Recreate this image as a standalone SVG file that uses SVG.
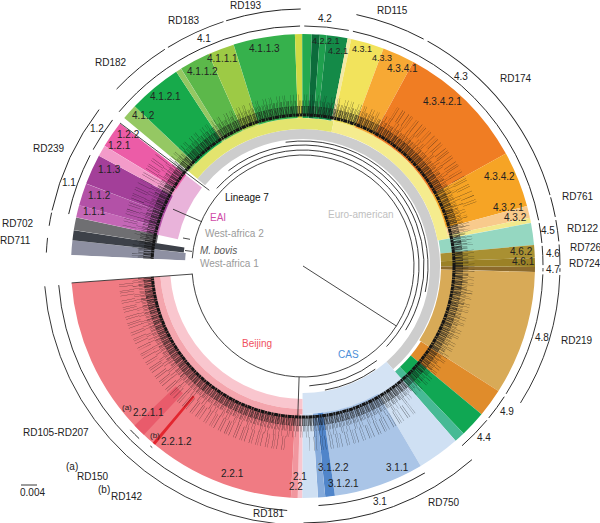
<svg xmlns="http://www.w3.org/2000/svg" width="600" height="523" viewBox="0 0 600 523">
<style>
.w{fill:none}
.a{fill:none;stroke:#222;stroke-width:0.9}
.tl{fill:none;stroke:#1a1a1a;stroke-width:0.8}
.t{font-family:"Liberation Sans",Arial,sans-serif;font-size:10px;fill:#222}
.s{font-size:9px}
.sup{font-size:8px}
.lv{fill:none;stroke:#151515}
.mk{fill:none;stroke:#fff}
</style>
<defs>
  <mask id="mB" maskUnits="userSpaceOnUse" x="-300" y="-300" width="600" height="600">
    <circle class="mk" r="180" stroke-width="30" pathLength="360" stroke-dasharray="80 360" transform="rotate(95)"/>
    <circle class="mk" r="180" stroke-width="30" pathLength="360" stroke-dasharray="36 360" transform="rotate(52)"/>
    <circle class="mk" r="180" stroke-width="30" pathLength="360" stroke-dasharray="25 360" transform="rotate(192.5)"/>
    <circle class="mk" r="180" stroke-width="30" pathLength="360" stroke-dasharray="40 360" transform="rotate(300)"/>
  </mask>
</defs>
<rect width="600" height="523" fill="#fff"/>
<g id="wedges" transform="translate(303 266)">
  <g id="lineage-bands">
    <circle class="w" r="132" stroke="#cdcdcd" stroke-width="10" pathLength="360" stroke-dasharray="189.4 360" transform="rotate(219.5)"/>
    <circle class="w" r="142.5" stroke="#e3e46e" stroke-width="11" pathLength="360" stroke-dasharray="62.4 360" transform="rotate(219.6)"/>
    <circle class="w" r="142.5" stroke="#f5ec8e" stroke-width="11" pathLength="360" stroke-dasharray="67.3 360" transform="rotate(282)"/>
    <circle class="w" r="137.5" stroke="#d4e3f4" stroke-width="21" pathLength="360" stroke-dasharray="41.3 360" transform="rotate(48.9)"/>
    <circle class="w" r="138" stroke="#f9c6ce" stroke-width="10" pathLength="360" stroke-dasharray="85.6 360" transform="rotate(90.2)"/>
    <circle class="w" r="146.5" stroke="#f4a5ad" stroke-width="7" pathLength="360" stroke-dasharray="85.6 360" transform="rotate(90.2)"/>
    <circle class="w" r="139" stroke="#e9b3da" stroke-width="22" pathLength="360" stroke-dasharray="25.8 360" transform="rotate(192.1)"/>
  </g>
  <g id="west-africa">
    <circle class="w" r="175" stroke="#8e90a2" stroke-width="114" pathLength="360" stroke-dasharray="3.7 360" transform="rotate(182.7)"/>
    <circle class="w" r="176" stroke="#3d4149" stroke-width="112" pathLength="360" stroke-dasharray="2.5 360" transform="rotate(186.4)"/>
    <circle class="w" r="190" stroke="#6f6f72" stroke-width="84" pathLength="360" stroke-dasharray="3.2 360" transform="rotate(188.9)"/>
  </g>
  <g id="lineage1">
    <circle class="w" r="190" stroke="#c467b6" stroke-width="84" pathLength="360" stroke-dasharray="3.1 360" transform="rotate(192.1)"/>
    <circle class="w" r="190" stroke="#b351a7" stroke-width="84" pathLength="360" stroke-dasharray="5.6 360" transform="rotate(195.2)"/>
    <circle class="w" r="190" stroke="#a33f99" stroke-width="84" pathLength="360" stroke-dasharray="7.6 360" transform="rotate(200.8)"/>
    <circle class="w" r="190" stroke="#f39bc9" stroke-width="84" pathLength="360" stroke-dasharray="2.8 360" transform="rotate(208.4)"/>
    <circle class="w" r="190" stroke="#ec5ca7" stroke-width="84" pathLength="360" stroke-dasharray="6.7 360" transform="rotate(211.2)"/>
  </g>
  <g id="lineage4-1">
    <circle class="w" r="190" stroke="#95c863" stroke-width="84" pathLength="360" stroke-dasharray="3.9 360" transform="rotate(219.6)"/>
    <circle class="w" r="190" stroke="#17aa4b" stroke-width="84" pathLength="360" stroke-dasharray="13.4 360" transform="rotate(223.5)"/>
    <circle class="w" r="190" stroke="#95c863" stroke-width="84" pathLength="360" stroke-dasharray="1.4 360" transform="rotate(236.9)"/>
    <circle class="w" r="190" stroke="#5cb84a" stroke-width="84" pathLength="360" stroke-dasharray="7.7 360" transform="rotate(238.3)"/>
    <circle class="w" r="190" stroke="#9dca45" stroke-width="84" pathLength="360" stroke-dasharray="6.6 360" transform="rotate(246)"/>
    <circle class="w" r="190" stroke="#36b14c" stroke-width="84" pathLength="360" stroke-dasharray="15.4 360" transform="rotate(252.6)"/>
    <circle class="w" r="190" stroke="#cfda45" stroke-width="84" pathLength="360" stroke-dasharray="1.8 360" transform="rotate(268)"/>
  </g>
  <g id="lineage4-2">
    <circle class="w" r="190" stroke="#24a94f" stroke-width="84" pathLength="360" stroke-dasharray="2.4 360" transform="rotate(269.8)"/>
    <circle class="w" r="190" stroke="#0c6c3b" stroke-width="84" pathLength="360" stroke-dasharray="2 360" transform="rotate(272.2)"/>
    <circle class="w" r="190" stroke="#1f9f4e" stroke-width="84" pathLength="360" stroke-dasharray="1.7 360" transform="rotate(274.2)"/>
    <circle class="w" r="190" stroke="#148a48" stroke-width="84" pathLength="360" stroke-dasharray="5.2 360" transform="rotate(275.9)"/>
    <circle class="w" r="190" stroke="#f2e8a4" stroke-width="84" pathLength="360" stroke-dasharray="0.9 360" transform="rotate(281.1)"/>
  </g>
  <g id="lineage4-3">
    <circle class="w" r="190" stroke="#f2e35c" stroke-width="84" pathLength="360" stroke-dasharray="8.3 360" transform="rotate(282)"/>
    <circle class="w" r="190" stroke="#f7a934" stroke-width="84" pathLength="360" stroke-dasharray="8.1 360" transform="rotate(290.3)"/>
    <circle class="w" r="190" stroke="#f07d23" stroke-width="84" pathLength="360" stroke-dasharray="32.6 360" transform="rotate(298.4)"/>
    <circle class="w" r="190" stroke="#f6a425" stroke-width="84" pathLength="360" stroke-dasharray="14 360" transform="rotate(331)"/>
    <circle class="w" r="190" stroke="#f8ca8c" stroke-width="84" pathLength="360" stroke-dasharray="3 360" transform="rotate(345)"/>
    <circle class="w" r="190" stroke="#f2e98c" stroke-width="84" pathLength="360" stroke-dasharray="1.3 360" transform="rotate(348)"/>
  </g>
  <g id="lineage4-other">
    <circle class="w" r="185" stroke="#95d7c1" stroke-width="94" pathLength="360" stroke-dasharray="5.5 360" transform="rotate(349.3)"/>
    <circle class="w" r="185" stroke="#a99032" stroke-width="94" pathLength="360" stroke-dasharray="3.2 360" transform="rotate(354.8)"/>
    <circle class="w" r="185" stroke="#9b8126" stroke-width="94" pathLength="360" stroke-dasharray="2.25 360" transform="rotate(358)"/>
    <circle class="w" r="185" stroke="#8d6b2d" stroke-width="94" pathLength="360" stroke-dasharray="1.25 360" transform="rotate(0.25)"/>
    <circle class="w" r="185" stroke="#d8aa57" stroke-width="94" pathLength="360" stroke-dasharray="31.1 360" transform="rotate(1.5)"/>
    <circle class="w" r="186" stroke="#e08c2b" stroke-width="92" pathLength="360" stroke-dasharray="7.1 360" transform="rotate(32.6)"/>
    <circle class="w" r="186" stroke="#10a753" stroke-width="92" pathLength="360" stroke-dasharray="6.5 360" transform="rotate(39.7)"/>
    <circle class="w" r="186" stroke="#47ba95" stroke-width="92" pathLength="360" stroke-dasharray="2.7 360" transform="rotate(46.2)"/>
  </g>
  <g id="lineage3">
    <circle class="w" r="190" stroke="#cfe0f3" stroke-width="84" pathLength="360" stroke-dasharray="10.6 360" transform="rotate(48.9)"/>
    <circle class="w" r="190" stroke="#aac5e7" stroke-width="84" pathLength="360" stroke-dasharray="22.6 360" transform="rotate(59.5)"/>
    <circle class="w" r="190" stroke="#5085ca" stroke-width="84" pathLength="360" stroke-dasharray="2.4 360" transform="rotate(82.1)"/>
    <circle class="w" r="190" stroke="#86abdb" stroke-width="84" pathLength="360" stroke-dasharray="1.8 360" transform="rotate(84.5)"/>
    <circle class="w" r="190" stroke="#cfe0f3" stroke-width="84" pathLength="360" stroke-dasharray="3.9 360" transform="rotate(86.3)"/>
  </g>
  <g id="lineage2">
    <circle class="w" r="190" stroke="#f8c7d0" stroke-width="84" pathLength="360" stroke-dasharray="1.1 360" transform="rotate(90.2)"/>
    <circle class="w" r="190" stroke="#f1969e" stroke-width="84" pathLength="360" stroke-dasharray="1.7 360" transform="rotate(91.3)"/>
    <circle class="w" r="191" stroke="#f07b83" stroke-width="82" pathLength="360" stroke-dasharray="82.8 360" transform="rotate(93)"/>
    <circle class="w" r="203.5" stroke="#e95b6b" stroke-width="57" pathLength="360" stroke-dasharray="3.3 360" transform="rotate(133.3)"/>
    <circle class="w" r="201" stroke="#e3262f" stroke-width="62" pathLength="360" stroke-dasharray="0.8 360" transform="rotate(129.6)"/>
  </g>
</g>
<g id="tree" transform="translate(303 266)">
  <circle class="lv" r="151" stroke-width="3" stroke-dasharray="4 0.5 2 0.4"/>
  <circle class="lv" r="156" stroke-width="8" stroke-dasharray="0.5 0.3 0.3 0.6 0.6 0.3 0.3 0.9 0.5 0.4 0.4 0.3"/>
  <circle class="lv" r="162.5" stroke-width="6" stroke-dasharray="0.3 1 0.3 0.6 0.4 1.8 0.3 0.8 0.3 1.4" opacity="0.85"/>
  <circle class="lv" r="168.5" stroke-width="6" stroke-dasharray="0.3 3.2 0.2 1.6 0.3 5.5 0.25 2.4" opacity="0.75"/>
  <g mask="url(#mB)">
    <circle class="lv" r="178" stroke-width="14" stroke-dasharray="0.3 2.6 0.2 1.6 0.3 4 0.25 2 0.3 4.5" opacity="0.8"/>
  </g>
  <circle class="w" r="175" stroke="#fff" stroke-width="120" pathLength="360" stroke-dasharray="6.8 360" transform="rotate(175.9)"/>
  <circle class="tl" r="111" pathLength="360" stroke-dasharray="352 360" transform="rotate(184)"/>
  <line class="tl" x1="0" y1="0" x2="93.4" y2="60"/>
  <circle class="tl" r="116" pathLength="360" stroke-dasharray="182 360" transform="rotate(222)"/>
  <circle class="tl" r="121" pathLength="360" stroke-dasharray="160 360" transform="rotate(232)"/>
  <circle class="tl" r="125" pathLength="360" stroke-dasharray="110 360" transform="rotate(262)"/>
  <circle class="tl" r="120" pathLength="360" stroke-dasharray="35 360" transform="rotate(52)"/>
  <circle class="tl" r="126" pathLength="360" stroke-dasharray="25 360" transform="rotate(55)"/>
  <path class="tl" d="M-231.4 16.9 L-110.7 8.1 M-3.9 111 L-5.2 150 M-101.1 -44.2 L-130 -56.8 M-93.7 -75.7 L-183 -143 M-111 -14.6 L-118 -15.5 M-113 -26.7 L-120 -28"/>
</g>
<g id="connectors" transform="translate(303 266)">
  <circle class="a" r="240" pathLength="360" stroke-dasharray="15 360" transform="rotate(192.5)"/>
  <circle class="a" r="240" pathLength="360" stroke-dasharray="8.5 360" transform="rotate(209)"/>
  <circle class="a" r="240" pathLength="360" stroke-dasharray="49.3 360" transform="rotate(220)"/>
  <circle class="a" r="240" pathLength="360" stroke-dasharray="10.7 360" transform="rotate(270.3)"/>
  <circle class="a" r="240" pathLength="360" stroke-dasharray="67 360" transform="rotate(282)"/>
  <circle class="a" r="240" pathLength="360" stroke-dasharray="4.8 360" transform="rotate(349.7)"/>
  <circle class="a" r="240" pathLength="360" stroke-dasharray="4.6 360" transform="rotate(355.2)"/>
  <circle class="a" r="240" pathLength="360" stroke-dasharray="0.8 360" transform="rotate(0.5)"/>
  <circle class="a" r="240" pathLength="360" stroke-dasharray="30.2 360" transform="rotate(2)"/>
  <circle class="a" r="240" pathLength="360" stroke-dasharray="6.3 360" transform="rotate(33)"/>
  <circle class="a" r="240" pathLength="360" stroke-dasharray="8.5 360" transform="rotate(40)"/>
  <circle class="a" r="240" pathLength="360" stroke-dasharray="26.8 360" transform="rotate(59.5)"/>
  <circle class="a" r="245" pathLength="360" stroke-dasharray="81.8 360" transform="rotate(93.7)"/>
  <circle class="a" r="238" pathLength="360" stroke-dasharray="3 360" transform="rotate(133.5)"/>
  <circle class="a" r="236" pathLength="360" stroke-dasharray="0.6 360" transform="rotate(129.7)"/>
  <circle class="a" r="257" pathLength="360" stroke-dasharray="3.3 360" transform="rotate(183)"/>
  <circle class="a" r="257" pathLength="360" stroke-dasharray="3 360" transform="rotate(189)"/>
  <circle class="a" r="257" pathLength="360" stroke-dasharray="25 360" transform="rotate(192.5)"/>
  <circle class="a" r="257" pathLength="360" stroke-dasharray="14 360" transform="rotate(223.5)"/>
  <circle class="a" r="257" pathLength="360" stroke-dasharray="13.7 360" transform="rotate(238.3)"/>
  <circle class="a" r="257" pathLength="360" stroke-dasharray="16.9 360" transform="rotate(252.6)"/>
  <circle class="a" r="257" pathLength="360" stroke-dasharray="16 360" transform="rotate(282)"/>
  <circle class="a" r="257" pathLength="360" stroke-dasharray="45 360" transform="rotate(299)"/>
  <circle class="a" r="257" pathLength="360" stroke-dasharray="4.5 360" transform="rotate(344.5)"/>
  <circle class="a" r="257" pathLength="360" stroke-dasharray="4.8 360" transform="rotate(349.7)"/>
  <circle class="a" r="257" pathLength="360" stroke-dasharray="4.6 360" transform="rotate(355.2)"/>
  <circle class="a" r="257" pathLength="360" stroke-dasharray="0.8 360" transform="rotate(0.5)"/>
  <circle class="a" r="257" pathLength="360" stroke-dasharray="30.2 360" transform="rotate(2)"/>
  <circle class="a" r="257" pathLength="360" stroke-dasharray="41 360" transform="rotate(48.9)"/>
  <circle class="a" r="259" pathLength="360" stroke-dasharray="85 360" transform="rotate(90.5)"/>
</g>
<g id="labels">
  <text class="t" x="249" y="52">4.1.1.3</text>
  <text class="t" x="207" y="62">4.1.1.1</text>
  <text class="t" x="187" y="75">4.1.1.2</text>
  <text class="t" x="150" y="100">4.1.2.1</text>
  <text class="t" x="132" y="119">4.1.2</text>
  <text class="t" x="197" y="42">4.1</text>
  <text class="t" x="90" y="132">1.2</text>
  <text class="t" x="62" y="186">1.1</text>
  <text class="t" x="117" y="138">1.2.2</text>
  <text class="t" x="108" y="149">1.2.1</text>
  <text class="t" x="98" y="173">1.1.3</text>
  <text class="t" x="88" y="199">1.1.2</text>
  <text class="t" x="83" y="215">1.1.1</text>
  <text class="t" x="33" y="152">RD239</text>
  <text class="t" x="95" y="66">RD182</text>
  <text class="t" x="168" y="24">RD183</text>
  <text class="t" x="230" y="9">RD193</text>
  <text class="t" x="377" y="14">RD115</text>
  <text class="t" x="318" y="22">4.2</text>
  <text class="t s" x="312" y="43.5">4.2.2.1</text>
  <text class="t s" x="328" y="54">4.2.1</text>
  <text class="t s" x="352" y="52">4.3.1</text>
  <text class="t s" x="372" y="61">4.3.3</text>
  <text class="t" x="387" y="72">4.3.4.1</text>
  <text class="t" x="454" y="80">4.3</text>
  <text class="t" x="500" y="82">RD174</text>
  <text class="t" x="423" y="105">4.3.4.2.1</text>
  <text class="t" x="484" y="180">4.3.4.2</text>
  <text class="t" x="562" y="200">RD761</text>
  <text class="t" x="493" y="211">4.3.2.1</text>
  <text class="t" x="504" y="221">4.3.2</text>
  <text class="t" x="541" y="234">4.5</text>
  <text class="t" x="567" y="232">RD122</text>
  <text class="t" x="510" y="255">4.6.2</text>
  <text class="t" x="546" y="257">4.6</text>
  <text class="t" x="570" y="251">RD726</text>
  <text class="t" x="512" y="265">4.6.1</text>
  <text class="t" x="546" y="273">4.7</text>
  <text class="t" x="569" y="267">RD724</text>
  <text class="t" x="535" y="341">4.8</text>
  <text class="t" x="561" y="344">RD219</text>
  <text class="t" x="500" y="415">4.9</text>
  <text class="t" x="477" y="441">4.4</text>
  <text class="t" x="428" y="506">RD750</text>
  <text class="t" x="373" y="505">3.1</text>
  <text class="t" x="386" y="471">3.1.1</text>
  <text class="t" x="318" y="471">3.1.2.2</text>
  <text class="t" x="328" y="487">3.1.2.1</text>
  <text class="t" x="293" y="480">2.1</text>
  <text class="t" x="289" y="490">2.2</text>
  <text class="t" x="253" y="517">RD181</text>
  <text class="t" x="221" y="477">2.2.1</text>
  <text class="t sup" x="122" y="410">(a)</text>
  <text class="t" x="133" y="416">2.2.1.1</text>
  <text class="t sup" x="150" y="438">(b)</text>
  <text class="t" x="161" y="445">2.2.1.2</text>
  <text class="t" x="23" y="436">RD105-RD207</text>
  <text class="t" x="66" y="470">(a)</text>
  <text class="t" x="77" y="480">RD150</text>
  <text class="t" x="98" y="493">(b)</text>
  <text class="t" x="111" y="500">RD142</text>
  <text class="t" x="20" y="496">0.004</text>
  <line x1="21" y1="485" x2="37" y2="485" stroke="#222" stroke-width="0.9"/>
  <text class="t" x="2" y="227">RD702</text>
  <text class="t" x="0" y="244">RD711</text>
</g>
<g id="lineage-names">
  <text class="t" x="225" y="201" style="fill:#111">Lineage 7</text>
  <text class="t" x="210" y="221" style="fill:#d04aa8">EAI</text>
  <text class="t" x="205" y="237" style="fill:#9a9a9a">West-africa 2</text>
  <text class="t" x="200" y="254" style="fill:#555;font-style:italic">M. bovis</text>
  <text class="t" x="200" y="267" style="fill:#9a9a9a">West-africa 1</text>
  <text class="t" x="328" y="218" style="fill:#c0c0c0">Euro-american</text>
  <text class="t" x="242" y="347" style="fill:#f0505e">Beijing</text>
  <text class="t" x="338" y="358" style="fill:#4d8fd8">CAS</text>
</g>
</svg>
